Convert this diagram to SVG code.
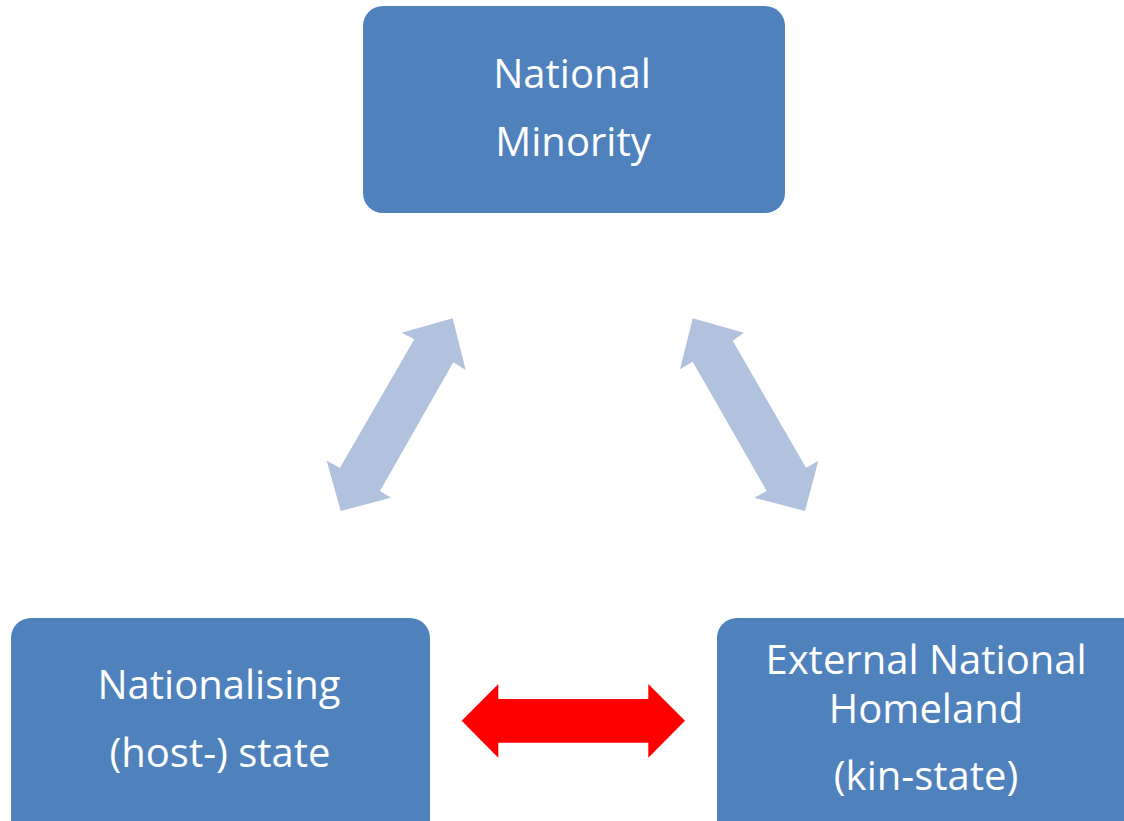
<svg xmlns="http://www.w3.org/2000/svg" width="1124" height="821" viewBox="0 0 1124 821">
<style>
.box{fill:#4F81BD}
.lbl{font-family:"Open Sans","Liberation Sans",sans-serif;font-size:40px;fill:#FFFFFF;text-anchor:middle}
.soft{fill:#B0C2DE}
.hard{fill:#FF0000}
</style>
<rect width="1124" height="821" fill="#FFFFFF"/>
<g id="connectors">
<polygon class="soft" points="452.7,318.3 465.7,370 453.3,362.3 380,491 391,497.7 340.7,511 326.7,460.7 340,467.7 414.3,339.3 401.7,332.7"/>
<polygon class="soft" points="692.7,318.3 744,332.7 732.7,340.7 806,467.7 818.3,461 805,511 754.3,497.7 766.7,491 692.7,361.7 680,369.3"/>
<polygon class="hard" points="461.7,720.7 498.3,684 498.3,699 648.3,699 648.3,684 685,720.7 648.3,757.7 648.3,742.7 498.3,742.7 498.3,757.7"/>
</g>
<g id="node-minority">
<rect class="box" x="363" y="6" width="422" height="207" rx="20"/>
<text class="lbl" x="572" y="88">National</text>
<text class="lbl" x="573" y="156">Minority</text>
</g>
<g id="node-host">
<rect class="box" x="11" y="618" width="419" height="230" rx="20"/>
<text class="lbl" x="219" y="699">Nationalising</text>
<text class="lbl" x="220" y="767">(host-) state</text>
</g>
<g id="node-kin">
<rect class="box" x="717" y="618" width="440" height="230" rx="20"/>
<text class="lbl" x="926" y="674">External National</text>
<text class="lbl" x="926" y="723">Homeland</text>
<text class="lbl" x="926" y="790">(kin-state)</text>
</g>
</svg>
